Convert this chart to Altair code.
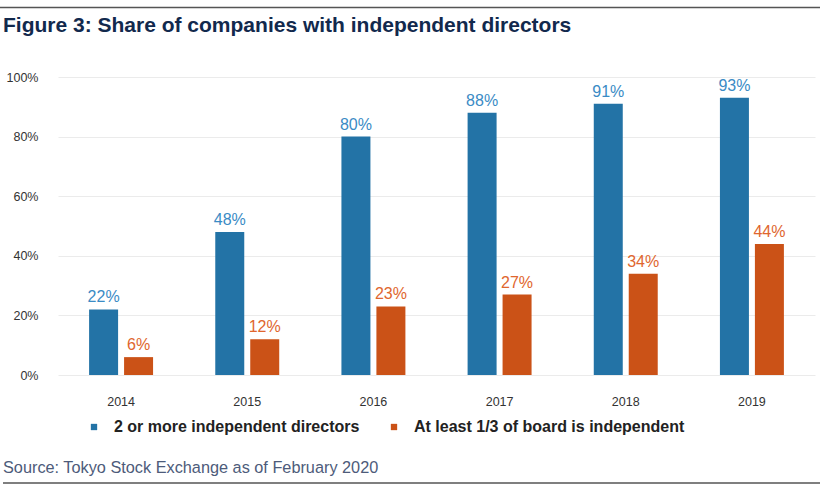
import altair as alt
import pandas as pd

years = ["2014", "2015", "2016", "2017", "2018", "2019"]
two_plus = [22, 48, 80, 88, 91, 93]
one_third = [6, 12, 23, 27, 34, 44]
series_names = ["2 or more independent directors", "At least 1/3 of board is independent"]
bar_colors = ["#2373a6", "#cb5217"]
label_colors = ["#3a8bc5", "#e0662e"]
y_ticks = [0, 20, 40, 60, 80, 100]

title_text = "Figure 3: Share of companies with independent directors"
source_text = "Source: Tokyo Stock Exchange as of February 2020"

rows = []
for i, yr in enumerate(years):
    rows.append({"year": yr, "series": series_names[0], "value": two_plus[i], "label": f"{two_plus[i]}%"})
    rows.append({"year": yr, "series": series_names[1], "value": one_third[i], "label": f"{one_third[i]}%"})
df = pd.DataFrame(rows)

W, H = 757, 298
PL, PT = 58, 77

x_enc = alt.X("year:N", sort=years, title=None,
              scale=alt.Scale(paddingInner=0.493, paddingOuter=0.2465),
              axis=alt.Axis(labelAngle=0, labelFont="Liberation Sans", labelFontSize=12.5,
                            labelColor="#333333", ticks=False, domain=False, labelPadding=20,
                            grid=False))
xoff = alt.XOffset("series:N", sort=series_names,
                   scale=alt.Scale(paddingInner=0.171, paddingOuter=0))
y_enc = alt.Y("value:Q", title=None,
              scale=alt.Scale(domain=[0, 100], nice=False),
              axis=alt.Axis(values=y_ticks, labelExpr="datum.value + '%'",
                            labelFont="Liberation Sans", labelFontSize=12.5, labelColor="#333333",
                            ticks=False, domain=False, labelPadding=20,
                            gridColor="#ebebeb", gridWidth=1))

base = alt.Chart(df)

bars = base.mark_bar().encode(
    x=x_enc, xOffset=xoff, y=y_enc,
    color=alt.Color("series:N", sort=series_names,
                    scale=alt.Scale(domain=series_names, range=bar_colors),
                    legend=alt.Legend(title=None, orient="none", direction="horizontal",
                                      legendX=28, legendY=342, padding=0,
                                      symbolType="square", symbolSize=40, symbolStrokeWidth=0,
                                      labelFont="Liberation Sans", labelFontWeight="bold",
                                      labelFontSize=16, labelColor="#222222", labelLimit=0,
                                      labelOffset=12, columnPadding=26)),
)

labels = base.mark_text(baseline="alphabetic", dy=-7, font="Liberation Sans", fontSize=16).encode(
    x=alt.X("year:N", sort=years),
    xOffset=xoff,
    y=alt.Y("value:Q"),
    text="label:N",
    color=alt.Color("series:N", sort=series_names,
                    scale=alt.Scale(domain=series_names, range=label_colors), legend=None),
)

one = pd.DataFrame({"t": [0]})
title = alt.Chart(one).mark_text(align="left", baseline="alphabetic", font="Liberation Sans",
                                 fontWeight="bold", fontSize=21, color="#12294d").encode(
    x=alt.value(3 - PL), y=alt.value(31.5 - PT), text=alt.value(title_text))
source = alt.Chart(one).mark_text(align="left", baseline="alphabetic", font="Liberation Sans",
                                  fontSize=16.3, color="#4d5b7a").encode(
    x=alt.value(3 - PL), y=alt.value(473 - PT), text=alt.value(source_text))
top_line = alt.Chart(one).mark_rule(color="#555555", strokeWidth=1.5).encode(
    x=alt.value(0 - PL), x2=alt.value(820 - PL), y=alt.value(7.5 - PT))
bottom_line = alt.Chart(one).mark_rule(color="#555555", strokeWidth=1.5).encode(
    x=alt.value(3 - PL), x2=alt.value(820 - PL), y=alt.value(483 - PT))

chart = alt.layer(bars, labels, title, source, top_line, bottom_line).resolve_scale(
    color="independent"
).properties(
    width=W, height=H,
    autosize=alt.AutoSizeParams(type="none"),
    padding={"left": PL, "top": PT, "right": 823 - PL - W, "bottom": 491 - PT - H},
    background="white",
).configure_view(stroke=None)

chart.save("out.html", embed_options={"renderer": "svg", "actions": False})
